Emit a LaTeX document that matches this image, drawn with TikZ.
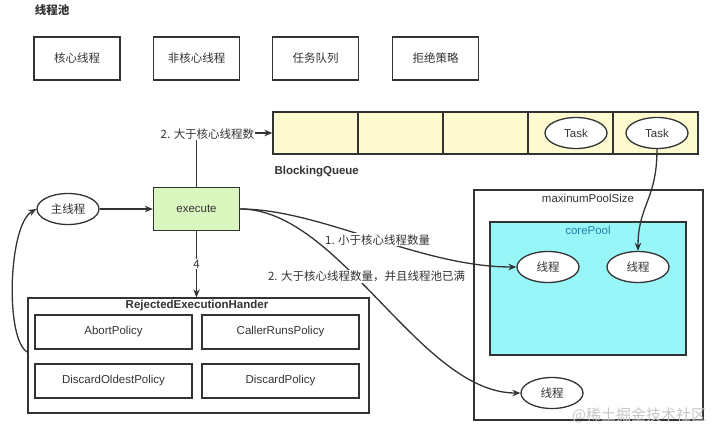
\documentclass[tikz,border=0pt]{standalone}
\usepackage{fontspec}
\setmainfont{Liberation Sans}
\newfontfamily\cjk{Noto Sans CJK SC}
\usepackage{tikz}
\usetikzlibrary{arrows.meta,positioning,shapes.geometric}

\definecolor{ink}{RGB}{51,51,51}
\definecolor{queuefill}{RGB}{252,250,206}
\definecolor{execfill}{RGB}{218,247,192}
\definecolor{corefill}{RGB}{153,246,248}
\definecolor{coretext}{RGB}{30,130,170}

\begin{document}
\begin{tikzpicture}[x=1pt, y=-1pt,
  box/.style={draw=ink, line width=1.3pt, minimum width=86pt, minimum height=43pt,
    inner sep=0pt, text=ink, font=\cjk\fontsize{11.5}{13}\selectfont},
  cell/.style={draw=ink, line width=1.3pt, fill=queuefill, minimum width=85pt,
    minimum height=42pt, inner sep=0pt},
  policy/.style={draw=ink, line width=1.3pt, minimum width=157pt, minimum height=34pt,
    inner sep=0pt, text=ink, font=\fontsize{11.5}{13}\selectfont},
  frame/.style={draw=ink, line width=1.3pt, inner sep=0pt},
  oval/.style={ellipse, draw=ink, line width=1.3pt, fill=white, minimum width=62pt,
    minimum height=31pt, inner sep=0pt, text=ink},
  head/.style={font=\bfseries\fontsize{11.5}{13}\selectfont, text=ink},
  lbl/.style={fill=white, inner sep=1pt, text=ink, font=\cjk\fontsize{11.5}{13}\selectfont},
  flow/.style={-{Stealth[length=8pt, width=6.5pt]}, line width=1.3pt, draw=ink},
  link/.style={line width=1.3pt, draw=ink}
]
\useasboundingbox (0,0) rectangle (713,426);

\node[text=ink, font=\cjk\bfseries\fontsize{11.5}{13}\selectfont] (title) at (52,10) {线程池};
\foreach \x/\t/\n in {77/核心线程/core, 196.5/非核心线程/noncore,
  315.5/任务队列/tasks, 435.5/拒绝策略/reject}
  \node[box] (\n) at (\x,58.5) {\t};

\foreach \i in {1,...,5}
  \node[cell] (q\i) at (273+85*\i-42.5,133) {};
\node[oval, font=\fontsize{11.5}{13}\selectfont] (task1) at (576,133) {Task};
\node[oval, font=\fontsize{11.5}{13}\selectfont] (task2) at (657,133) {Task};
\node[head, anchor=west] (bq) at (271,172) {BlockingQueue};

\node[oval, font=\cjk\fontsize{11.5}{13}\selectfont] (main) at (68,209) {主线程};
\node[box, fill=execfill, font=\fontsize{11.5}{13}\selectfont] (exec) at (196.5,209) {execute};

\node[frame, minimum width=341pt, minimum height=115pt] (rej) at (198.5,355.5) {};
\node[head] (rejtitle) at (197,306) {RejectedExecutionHander};
\node[policy] (abort) at (113.5,332) {AbortPolicy};
\node[policy] (caller) at (280.5,332) {CallerRunsPolicy};
\node[policy] (oldest) at (113.5,381) {DiscardOldestPolicy};
\node[policy] (discard) at (280.5,381) {DiscardPolicy};

\node[frame, minimum width=229pt, minimum height=230pt] (maxpool) at (588.5,305) {};
\node[text=ink, font=\fontsize{11.5}{13}\selectfont] (maxtitle) at (588,198) {maxinumPoolSize};
\node[frame, fill=corefill, minimum width=196pt, minimum height=133pt] (core) at (588,288.5) {};
\node[text=coretext, font=\fontsize{11.5}{13}\selectfont] (coretitle) at (588,230) {corePool};
\node[oval, font=\cjk\fontsize{11.5}{13}\selectfont] (thr1) at (548,267) {线程};
\node[oval, font=\cjk\fontsize{11.5}{13}\selectfont] (thr2) at (638,267) {线程};
\node[oval, font=\cjk\fontsize{11.5}{13}\selectfont] (thr3) at (552,393) {线程};

\draw[flow] (main.east) -- (exec.west);
\draw[flow] (exec.north) |- node[lbl, xshift=11pt, yshift=-1pt] {2. 大于核心线程数} (q1.west);
\draw[flow] (exec.south) -- node[lbl] {4} (exec.south |- rej.north);
\draw[flow] (rej.west |- 0,352) .. controls (5,340) and (8,225) .. (main.west);
\draw[flow] (exec.east) .. controls (340,209) and (420,393) ..
  node[lbl, pos=0.45, yshift=11pt] {2. 大于核心线程数量，并且线程池已满} (thr3.west);
\draw[flow] (exec.east) .. controls (320,209) and (420,267) ..
  node[lbl, pos=0.52] {1. 小于核心线程数量} (thr1.west);
\draw[flow] (task2.south) .. controls (657,200) and (638,205) .. (thr2.north);

\node[text=gray!45, font=\cjk\fontsize{15}{17}\selectfont] (mark) at (639,415) {@稀土掘金技术社区};
\end{tikzpicture}
\end{document}
